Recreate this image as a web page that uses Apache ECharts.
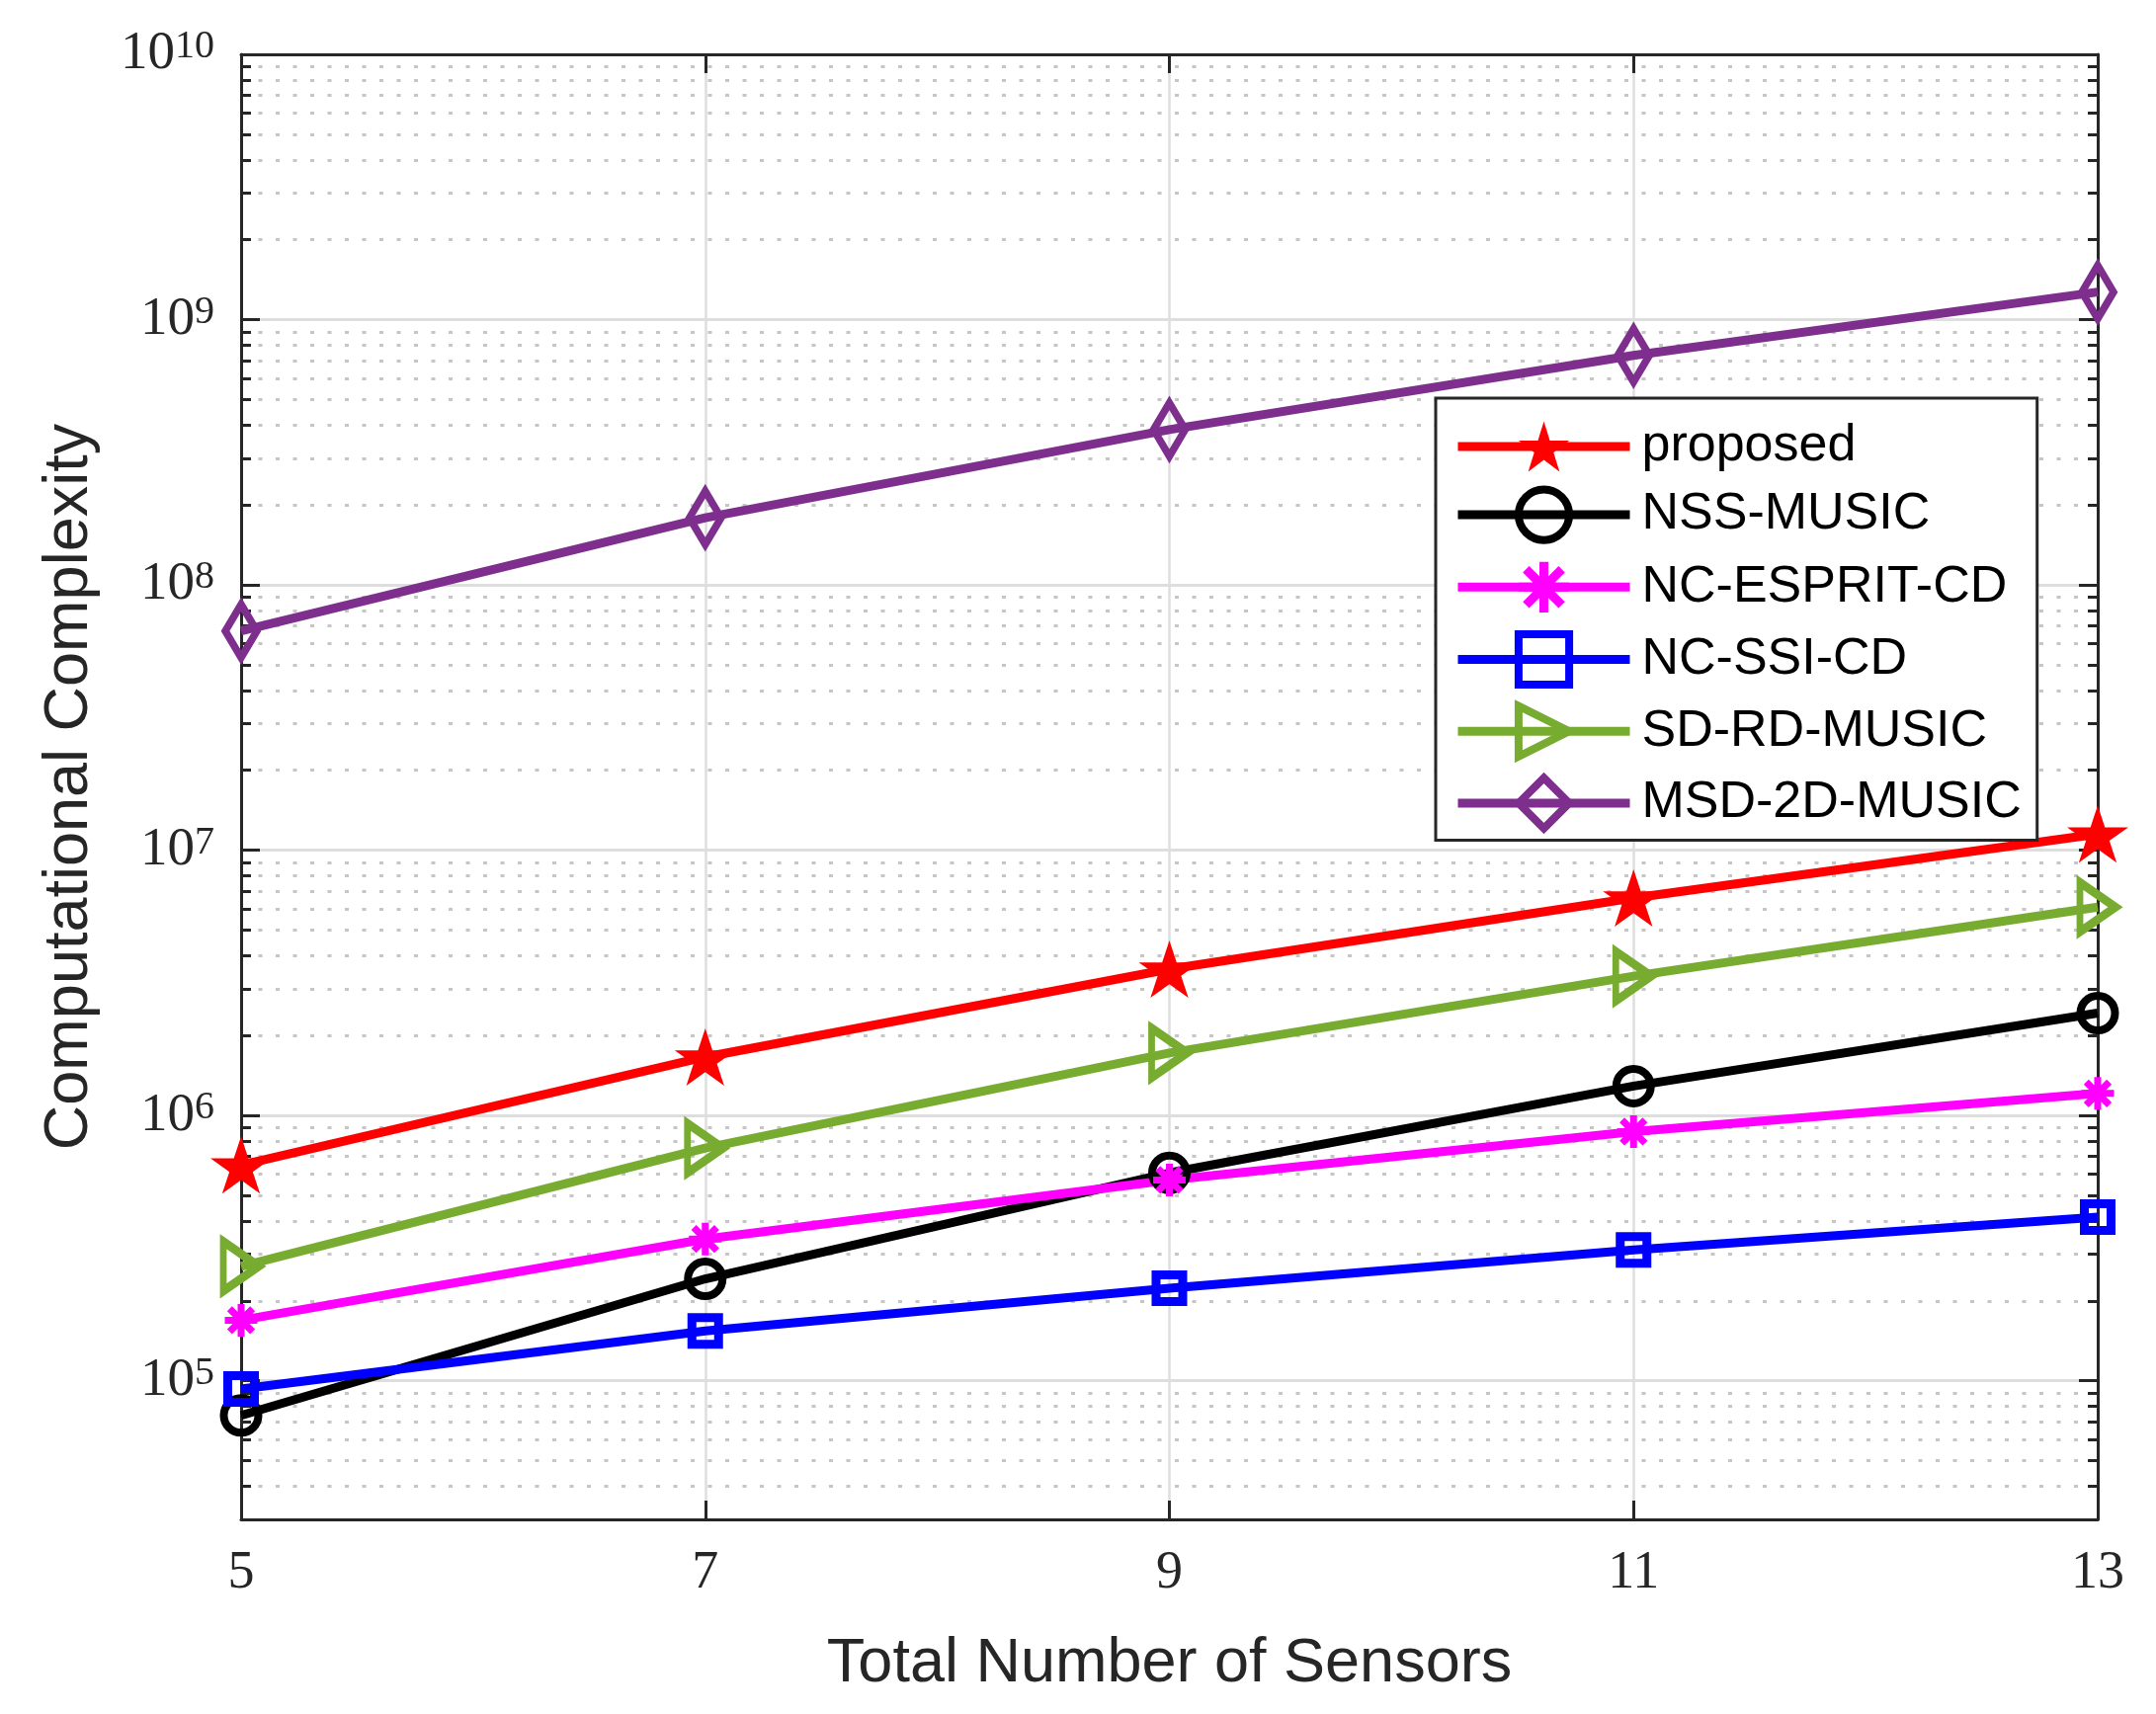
<!DOCTYPE html>
<html><head><meta charset="utf-8">
<script src="https://cdn.jsdelivr.net/npm/echarts@6/dist/echarts.min.js"></script>
<style>html,body{margin:0;padding:0;background:#fff}#c{width:2182px;height:1735px}</style>
</head><body><div id="c"></div>
<script>
// ---- data ----
const sensors = [5, 7, 9, 11, 13];
const proposed = [6.5e5, 1.66e6, 3.56e6, 6.6e6, 1.15e7];
const nssMusic = [7.4e4, 2.42e5, 6.07e5, 1.29e6, 2.43e6];
const ncEspritCd = [1.69e5, 3.42e5, 5.71e5, 8.69e5, 1.21e6];
const ncSsiCd = [9.3e4, 1.54e5, 2.23e5, 3.11e5, 4.14e5];
const sdRdMusic = [2.7e5, 7.53e5, 1.72e6, 3.35e6, 6.1e6];
const msd2dMusic = [6.7e7, 1.79e8, 3.85e8, 7.33e8, 1.27e9];
const seriesNames = ['proposed', 'NSS-MUSIC', 'NC-ESPRIT-CD', 'NC-SSI-CD', 'SD-RD-MUSIC', 'MSD-2D-MUSIC'];
const xTicks = [5, 7, 9, 11, 13];
const yMajorTicks = [1e5, 1e6, 1e7, 1e8, 1e9, 1e10];
const yMinorMultipliers = [2, 3, 4, 5, 6, 7, 8, 9];
const yDecades = [1e4, 1e5, 1e6, 1e7, 1e8, 1e9];
const yMin = 3e4, yMax = 1e10;

const yMinorTicks = [];
yDecades.forEach(d => yMinorMultipliers.forEach(m => { const v = m * d; if (v > yMin && v < yMax) yMinorTicks.push(v); }));

const AX = '#262626';
const STAR = 'path://M0,-1L0.225,-0.309L0.951,-0.309L0.363,0.118L0.588,0.809L0,0.382L-0.588,0.809L-0.363,0.118L-0.951,-0.309L-0.225,-0.309Z';
const AST = 'path://M0,-1L0,1M-1,0L1,0M-0.707,-0.707L0.707,0.707M-0.707,0.707L0.707,-0.707';
const TRI = 'path://M0,0L1,0.5L0,1Z';

function pairs(ys) { return sensors.map((x, i) => [x, ys[i]]); }
function line(name, ys, color, symbol, size, hollow, bw) {
  return {
    name, type: 'line', data: pairs(ys), symbol, symbolSize: size, clip: false,
    lineStyle: { color, width: 9 },
    itemStyle: hollow ? { color: 'rgba(0,0,0,0)', borderColor: color, borderWidth: bw }
                      : { color, borderColor: color, borderWidth: bw, borderCap: 'butt' },
    emphasis: { disabled: true }, z: 3
  };
}

const baseY = { type: 'log', logBase: 10, min: yMin, max: yMax, gridIndex: 0 };
const option = {
  animation: false,
  backgroundColor: '#fff',
  grid: { left: 244, right: 59, top: 55, bottom: 197, containLabel: false },
  xAxis: [
    { type: 'value', min: 5, max: 13, interval: 2, position: 'bottom',
      name: 'Total Number of Sensors', nameLocation: 'middle', nameGap: 115,
      nameTextStyle: { fontFamily: 'Liberation Sans', fontSize: 63, color: AX },
      axisLine: { show: true, onZero: false, lineStyle: { color: AX, width: 3 } },
      axisTick: { inside: true, length: 19, lineStyle: { color: AX, width: 3 } },
      axisLabel: { margin: 28, fontFamily: 'Liberation Serif', fontSize: 54, color: AX },
      splitLine: { show: true, lineStyle: { color: '#dedede', width: 2.5 } } },
    { type: 'value', min: 5, max: 13, interval: 2, position: 'top',
      axisLine: { show: true, onZero: false, lineStyle: { color: AX, width: 3 } },
      axisTick: { inside: true, length: 19, lineStyle: { color: AX, width: 3 } },
      axisLabel: { show: false }, splitLine: { show: false } }
  ],
  yAxis: [
    Object.assign({}, baseY, { position: 'left',
      name: 'Computational Complexity', nameLocation: 'middle', nameGap: 142,
      nameTextStyle: { fontFamily: 'Liberation Sans', fontSize: 63, color: AX },
      axisLine: { show: true, onZero: false, lineStyle: { color: AX, width: 3 } },
      axisTick: { inside: true, length: 19, customValues: yMajorTicks, lineStyle: { color: AX, width: 3 } },
      axisLabel: { margin: 27, customValues: yMajorTicks,
        formatter: v => '{b|10}{s|' + Math.round(Math.log10(v)) + '}',
        rich: {
          b: { fontFamily: 'Liberation Serif', fontSize: 55, color: AX, lineHeight: 55, verticalAlign: 'bottom' },
          s: { fontFamily: 'Liberation Serif', fontSize: 40, color: AX, lineHeight: 40, verticalAlign: 'top', padding: [0, 0, 23, 0] }
        } },
      splitLine: { show: true, lineStyle: { color: '#dedede', width: 3 } } }),
    Object.assign({}, baseY, { position: 'left',
      axisLine: { show: false },
      axisTick: { inside: true, length: 10, customValues: yMinorTicks, lineStyle: { color: AX, width: 3 } },
      axisLabel: { show: false },
      splitLine: { show: true, lineStyle: { color: '#c6c6c6', width: 3, type: [4, 13.5] } } }),
    Object.assign({}, baseY, { position: 'right',
      axisLine: { show: true, onZero: false, lineStyle: { color: AX, width: 3 } },
      axisTick: { inside: true, length: 19, customValues: yMajorTicks, lineStyle: { color: AX, width: 3 } },
      axisLabel: { show: false }, splitLine: { show: false } }),
    Object.assign({}, baseY, { position: 'right',
      axisLine: { show: false },
      axisTick: { inside: true, length: 10, customValues: yMinorTicks, lineStyle: { color: AX, width: 3 } },
      axisLabel: { show: false }, splitLine: { show: false } })
  ],
  legend: {
    orient: 'vertical', left: 1453, top: 403,
    padding: [23, 16, 8, 18], itemGap: 13.5, itemWidth: 174, itemHeight: 64,
    backgroundColor: '#fff', borderColor: AX, borderWidth: 3, borderRadius: 0,
    selectedMode: false,
    textStyle: { fontFamily: 'Liberation Sans', fontSize: 52, color: '#000', padding: [0, 0, 0, 7] },
    lineStyle: { width: 9 },
    itemStyle: { borderWidth: 8 },
    data: seriesNames.map((n, i) => i === 0 ? { name: n, itemStyle: { borderWidth: 0 } }
      : i === 2 ? { name: n, itemStyle: { borderWidth: 9, borderColor: '#ff00ff' } } : { name: n })
  },
  series: [
    line(seriesNames[0], proposed, '#ff0000', STAR, [62, 58], false, 0),
    line(seriesNames[1], nssMusic, '#000000', 'circle', 35, true, 8),
    line(seriesNames[2], ncEspritCd, '#ff00ff', AST, 33, false, 7),
    line(seriesNames[3], ncSsiCd, '#0000ff', 'rect', 27, true, 9),
    line(seriesNames[4], sdRdMusic, '#77ac30', TRI, [36, 50], true, 8),
    line(seriesNames[5], msd2dMusic, '#7e2f8e', 'diamond', [32, 54], true, 8)
  ]
};
const chart = echarts.init(document.getElementById('c'), null, { renderer: 'canvas' });
chart.setOption(option);
</script></body></html>
